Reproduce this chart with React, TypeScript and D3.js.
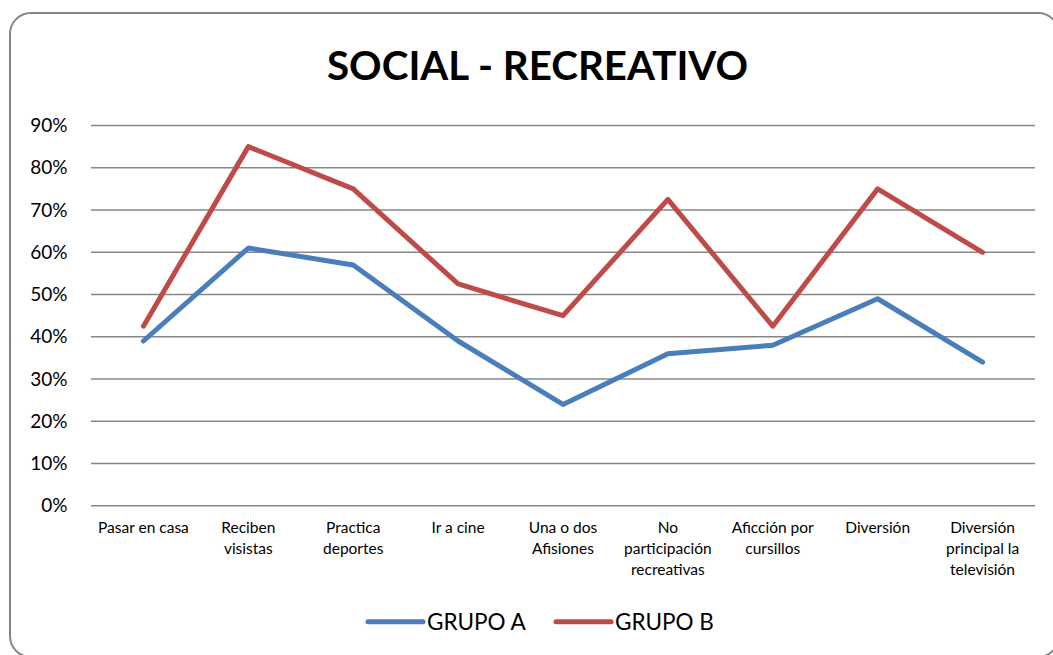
import React from "react";
import * as d3 from "d3";

const categories: string[][] = [
  ["Pasar en casa"],
  ["Reciben", "visistas"],
  ["Practica", "deportes"],
  ["Ir a cine"],
  ["Una o dos", "Afisiones"],
  ["No", "participación", "recreativas"],
  ["Aficción por", "cursillos"],
  ["Diversión"],
  ["Diversión", "principal la", "televisión"],
];
const grupoA: number[] = [0.39, 0.61, 0.57, 0.39, 0.24, 0.36, 0.38, 0.49, 0.34];
const grupoB: number[] = [0.425, 0.85, 0.75, 0.525, 0.45, 0.725, 0.425, 0.75, 0.60];
const yTicks: number[] = [0, 0.1, 0.2, 0.3, 0.4, 0.5, 0.6, 0.7, 0.8, 0.9];
const seriesNames = ["GRUPO A", "GRUPO B"];
const colors = ["#4A7EBB", "#BE4B48"];

const W = 1053;
const H = 655;
const FONT = "Lato, 'Open Sans', sans-serif";

export default function App() {
  const plotLeft = 91;
  const plotRight = 1035;
  const yTop = 125.5;
  const yBottom = 505.8;

  const x = d3
    .scaleBand<number>()
    .domain(categories.map((_, i) => i))
    .range([plotLeft, plotRight]);
  const y = d3.scaleLinear().domain([0, 0.9]).range([yBottom, yTop]);
  const cx = (i: number) => (x(i) as number) + x.bandwidth() / 2;

  const line = d3
    .line<number>()
    .x((_, i) => cx(i))
    .y((d) => y(d));

  const series = [grupoA, grupoB];

  return (
    <svg
      width={W}
      height={H}
      style={{ position: "absolute", left: 0, top: 0, background: "#fff" }}
      fontFamily={FONT}
    >
      <rect x={10} y={13} width={1049} height={644} rx={21} ry={21} fill="#fff" stroke="#868686" strokeWidth={2} />
      <text x={537.5} y={80} textAnchor="middle" fontWeight="bold" fontSize={40} fill="#000" textLength={421} lengthAdjust="spacingAndGlyphs">
        SOCIAL - RECREATIVO
      </text>
      {yTicks.map((t) => (
        <g key={t}>
          <line x1={plotLeft} x2={plotRight} y1={y(t)} y2={y(t)} stroke="#878787" strokeWidth={1.6} />
          <text x={67.5} y={y(t)} dy="0.35em" textAnchor="end" fontSize={19} fill="#000">
            {d3.format(".0%")(t)}
          </text>
        </g>
      ))}
      {categories.map((lines, i) => (
        <text key={i} x={cx(i)} y={533} textAnchor="middle" fontSize={15.5} fill="#000">
          {lines.map((l, j) => (
            <tspan key={j} x={cx(i)} dy={j === 0 ? 0 : 21}>
              {l}
            </tspan>
          ))}
        </text>
      ))}
      {series.map((s, k) => (
        <path
          key={k}
          d={line(s) as string}
          fill="none"
          stroke={colors[k]}
          strokeWidth={5}
          strokeLinejoin="round"
          strokeLinecap="round"
        />
      ))}
      {seriesNames.map((n, k) => {
        const lx = 368 + k * 188;
        return (
          <g key={n}>
            <line x1={lx} x2={lx + 55} y1={621.7} y2={621.7} stroke={colors[k]} strokeWidth={5} strokeLinecap="round" />
            <text x={lx + 59} y={630} fontSize={22.5} fill="#000">
              {n}
            </text>
          </g>
        );
      })}
    </svg>
  );
}
